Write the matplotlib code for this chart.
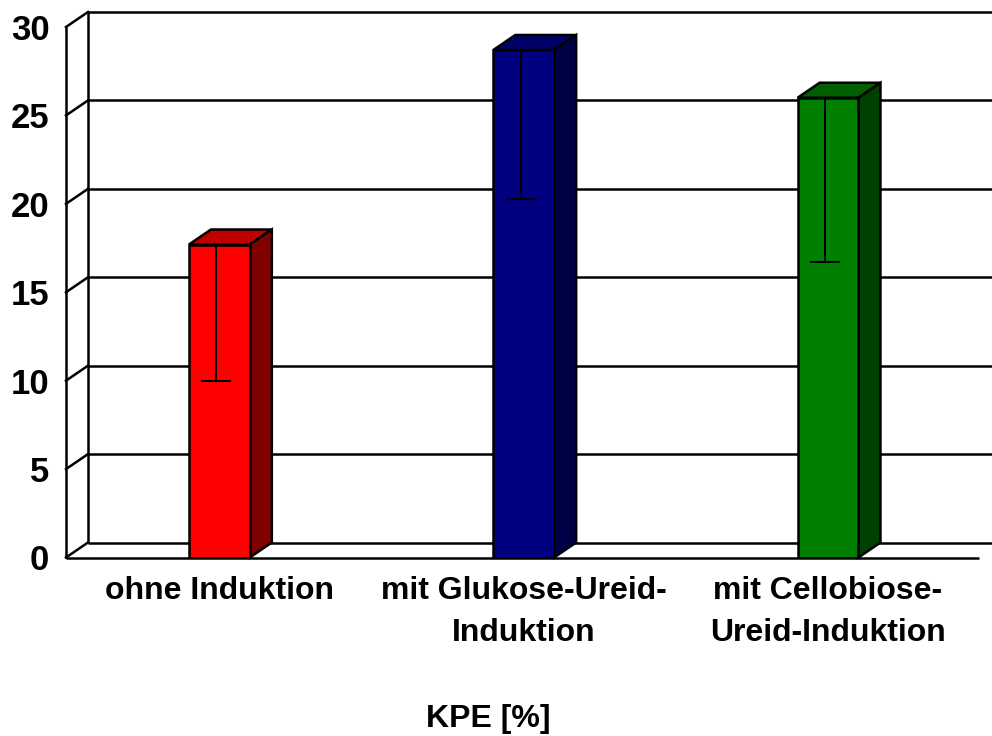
import matplotlib
matplotlib.use("Agg")
import matplotlib.pyplot as plt
from matplotlib.patches import Polygon

plt.rcParams['font.family'] = ['Liberation Sans', 'DejaVu Sans']
plt.rcParams['font.weight'] = 'bold'

# data
categories = ['ohne Induktion', 'mit Glukose-Ureid-\nInduktion', 'mit Cellobiose-\nUreid-Induktion']
values = [17.7, 28.7, 26.0]
lower_err = [7.7, 8.4, 9.3]
y_ticks = [0, 5, 10, 15, 20, 25, 30]
axis_title = 'KPE [%]'

face_colors = ['#ff0000', '#000080', '#008000']
top_colors = ['#c00000', '#000066', '#006000']
side_colors = ['#800000', '#000046', '#004000']

fig = plt.figure(figsize=(9.92, 7.36), dpi=100)
W, H = 992, 736
ax = fig.add_axes([66 / W, (H - 557.5) / H, 913 / W, 530.5 / H])
x0, x1 = -0.504, 2.496
ax.set_xlim(x0, x1)
ax.set_ylim(0, 30)
for s in ax.spines.values():
    s.set_visible(False)

# depth offset of the 3d look, in data units (22 px right, 15 px up)
ddx = 22 / (ax.bbox.width / (x1 - x0))
ddy = 15 / (ax.bbox.height / 30)

lw = 1.8
# back wall + side wall
ax.vlines(x0 + ddx, ddy, 30 + ddy, color='black', lw=lw, zorder=1, clip_on=False)
ax.hlines([t + ddy for t in y_ticks], x0 + ddx, x1 + ddx, color='black', lw=lw, zorder=1, clip_on=False)
for t in y_ticks:
    ax.plot([x0, x0 + ddx], [t, t + ddy], color='black', lw=lw, zorder=1, clip_on=False)
# front axis + floor edge
ax.vlines(x0, 0, 30, color='black', lw=lw, zorder=2, clip_on=False)
ax.hlines(0, x0, x1, color='black', lw=lw, zorder=2, clip_on=False)

w = 0.2
xs = list(range(len(categories)))
ax.bar(xs, values, width=w, color=face_colors, edgecolor='black', lw=lw, zorder=4)
for x, v, tc, sc in zip(xs, values, top_colors, side_colors):
    left, right = x - w / 2, x + w / 2
    top = Polygon([(left, v), (left + ddx, v + ddy), (right + ddx, v + ddy), (right, v)],
                  closed=True, facecolor=tc, edgecolor='black', lw=lw, zorder=3, clip_on=False)
    side = Polygon([(right, 0), (right + ddx, ddy), (right + ddx, v + ddy), (right, v)],
                   closed=True, facecolor=sc, edgecolor='black', lw=lw, zorder=3, clip_on=False)
    ax.add_patch(top)
    ax.add_patch(side)

ax.errorbar([x - 0.01 for x in xs], values, yerr=[lower_err, [0] * len(values)], fmt='none',
            ecolor='black', elinewidth=1.4, capsize=11, capthick=1.4, zorder=5, clip_on=False)

ax.set_yticks(y_ticks)
ax.set_yticklabels([str(t) for t in y_ticks], fontsize=25, fontweight='bold')
ax.set_xticks(xs)
ax.set_xticklabels(categories, fontsize=23, fontweight='bold', linespacing=1.55)
ax.tick_params(axis='y', length=0, pad=12)
ax.tick_params(axis='x', length=0, pad=13)

fig.text(488 / W, 1 - 719 / H, axis_title, ha='center', va='center', fontsize=23, fontweight='bold')

fig.savefig('out.png', dpi=100)
